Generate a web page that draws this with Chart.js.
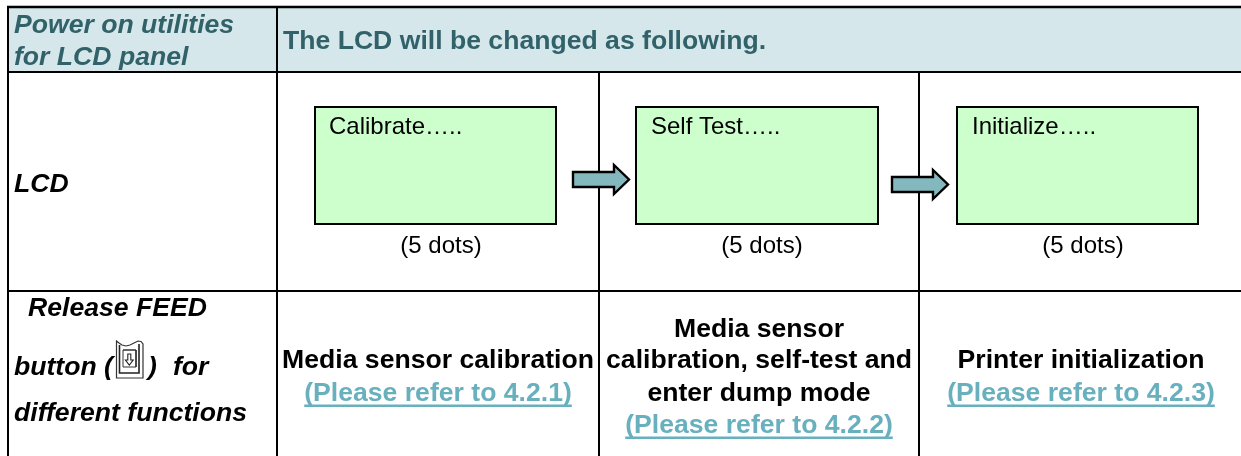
<!DOCTYPE html>
<html>
<head>
<meta charset="utf-8">
<title>Power on utilities for LCD panel</title>
<script src="https://cdn.jsdelivr.net/npm/chart.js@4"></script>
<style>
    html, body { margin: 0; padding: 0; background: #fff; }
    canvas { display: block; }
</style>
</head>
<body>
<canvas id="tableChart" width="1241" height="456"></canvas>
<script>
// table text
const headerLabel = ['Power on utilities', 'for LCD panel'];
const headerNote = 'The LCD will be changed as following.';
const lcdRowLabel = 'LCD';
const lcdMessages = ['Calibrate…..', 'Self Test…..', 'Initialize…..'];
const lcdCaptions = ['(5 dots)', '(5 dots)', '(5 dots)'];
const releaseLabel = ['Release FEED', 'button (', ')', 'for', 'different functions'];
const functionNames = [
    ['Media sensor calibration'],
    ['Media sensor', 'calibration, self-test and', 'enter dump mode'],
    ['Printer initialization']
];
const functionRefs = ['(Please refer to 4.2.1)', '(Please refer to 4.2.2)', '(Please refer to 4.2.3)'];

// table grid (page units)
const columnEdges = [8, 277, 599, 919, 1241];
const rowEdges = [7, 72, 291, 456];
const lcdLeft = [315, 636, 957];
const lcdRight = [556, 878, 1198];
const lcdTop = 107;
const lcdBottom = 224;
const arrowLeft = [573, 892];
const arrowMid = [179.5, 184.5];

const FONT = '"Liberation Sans", Arial, sans-serif';
const TEAL_DARK = '#31626a';
const LINK = '#68b0be';
const LINE = '#000000';

function polygon(points, fillColor, width, color) {
    return {
        type: 'line',
        data: points.map(p => ({ x: p[0], y: p[1] })),
        borderColor: color || LINE,
        borderWidth: width,
        backgroundColor: fillColor || 'transparent',
        fill: fillColor ? 'shape' : false,
        pointRadius: 0,
        tension: 0,
        borderJoinStyle: 'miter',
        clip: false
    };
}

// the second point is repeated so the starting corner gets a proper join
function closed(points, fillColor, width, color) {
    return polygon(points.concat([points[0], points[1]]), fillColor, width, color);
}

function box(x0, y0, x1, y1, fillColor, width, color) {
    return closed([[x0, y0], [x1, y0], [x1, y1], [x0, y1]], fillColor, width, color);
}

function arrow(left, mid) {
    return closed([
        [left, mid - 7.5], [left + 41, mid - 7.5], [left + 41, mid - 14.5], [left + 56, mid],
        [left + 41, mid + 14.5], [left + 41, mid + 7.5], [left, mid + 7.5]
    ], '#83b8bf', 2.4);
}

// paint order, first entry ends up at the bottom
const layers = [];
layers.push(box(columnEdges[0], rowEdges[0], columnEdges[4], rowEdges[1], '#d5e7ea', 0));
layers.push(polygon([[columnEdges[0] - 1, rowEdges[0]], [columnEdges[4], rowEdges[0]]], null, 2.4));
layers.push(polygon([[columnEdges[0], rowEdges[1]], [columnEdges[4], rowEdges[1]]], null, 2));
layers.push(polygon([[columnEdges[0], rowEdges[2]], [columnEdges[4], rowEdges[2]]], null, 2));
layers.push(polygon([[columnEdges[0], rowEdges[0]], [columnEdges[0], rowEdges[3]]], null, 2));
layers.push(polygon([[columnEdges[1], rowEdges[0]], [columnEdges[1], rowEdges[3]]], null, 2));
layers.push(polygon([[columnEdges[2], rowEdges[1]], [columnEdges[2], rowEdges[3]]], null, 2));
layers.push(polygon([[columnEdges[3], rowEdges[1]], [columnEdges[3], rowEdges[3]]], null, 2));
lcdLeft.forEach((left, i) => {
    layers.push(box(left, lcdTop, lcdRight[i], lcdBottom, '#ccffcc', 2));
});
arrowLeft.forEach((left, i) => layers.push(arrow(left, arrowMid[i])));

// FEED button icon
layers.push(closed([
    [116.5, 378], [116.5, 341], [119, 343], [122, 345], [126, 346], [130, 345], [134, 343], [138, 341],
    [141, 341.5], [143, 344], [143, 378]
], null, 1.2, '#333333'));
layers.push(polygon([[119.5, 345], [119.5, 373], [139, 373], [139, 344]], null, 1.6, '#222222'));
layers.push(box(123, 350, 136, 367, null, 1, '#333333'));
layers.push(closed([
    [127.8, 354], [130.8, 354], [130.8, 360], [133.2, 360], [129.3, 365], [125.4, 360], [127.8, 360]
], null, 1.1, '#222222'));

// text pieces
const texts = [];
function addText(text, x, y, font, color, align, underline) {
    texts.push({ text, x, y, font, color: color || '#000', align: align || 'left', underline: !!underline });
}

const ITALIC = 'italic bold 26.6px ' + FONT;
const BOLD = 'bold 26.6px ' + FONT;
const BODY = '24px ' + FONT;

addText(headerLabel[0], 14, 33, ITALIC, TEAL_DARK);
addText(headerLabel[1], 14, 65, ITALIC, TEAL_DARK);
addText(headerNote, 283, 49, BOLD, TEAL_DARK);
addText(lcdRowLabel, 14, 192, ITALIC);

const messageX = [329, 651, 972];
const captionX = [441, 762, 1083];
lcdMessages.forEach((m, i) => addText(m, messageX[i], 134, BODY));
lcdCaptions.forEach((c, i) => addText(c, captionX[i], 253, BODY, null, 'center'));

addText(releaseLabel[0], 28, 316, ITALIC);
addText(releaseLabel[1], 14, 375, ITALIC);
addText(releaseLabel[2], 148, 375, ITALIC);
addText(releaseLabel[3], 173, 375, ITALIC);
addText(releaseLabel[4], 14, 421, ITALIC);

const cellCenter = [438, 759, 1081];
const nameBaselines = [[368], [337, 368, 401], [368]];
const refBaselines = [401, 433, 401];
functionNames.forEach((lines, i) => {
    lines.forEach((line, j) => addText(line, cellCenter[i], nameBaselines[i][j], BOLD, null, 'center'));
    addText(functionRefs[i], cellCenter[i], refBaselines[i], BOLD, LINK, 'center', true);
});

const tableText = {
    id: 'tableText',
    afterDatasetsDraw(chart) {
        const { ctx, scales } = chart;
        ctx.save();
        ctx.textBaseline = 'alphabetic';
        texts.forEach(t => {
            const px = scales.x.getPixelForValue(t.x);
            const py = scales.y.getPixelForValue(t.y);
            ctx.font = t.font;
            ctx.fillStyle = t.color;
            ctx.textAlign = t.align;
            ctx.fillText(t.text, px, py);
            if (t.underline) {
                const w = ctx.measureText(t.text).width;
                ctx.fillRect(px - w / 2, py + 3.5, w, 2.5);
            }
        });
        ctx.restore();
    }
};

new Chart(document.getElementById('tableChart').getContext('2d'), {
    type: 'scatter',
    data: { datasets: layers.reverse() },
    options: {
        responsive: false,
        animation: false,
        events: [],
        layout: { padding: 0 },
        plugins: { legend: { display: false }, tooltip: { enabled: false } },
        scales: {
            x: { type: 'linear', display: false, min: 0, max: 1241 },
            y: { type: 'linear', display: false, min: 0, max: 456, reverse: true }
        }
    },
    plugins: [tableText]
});
</script>
</body>
</html>
